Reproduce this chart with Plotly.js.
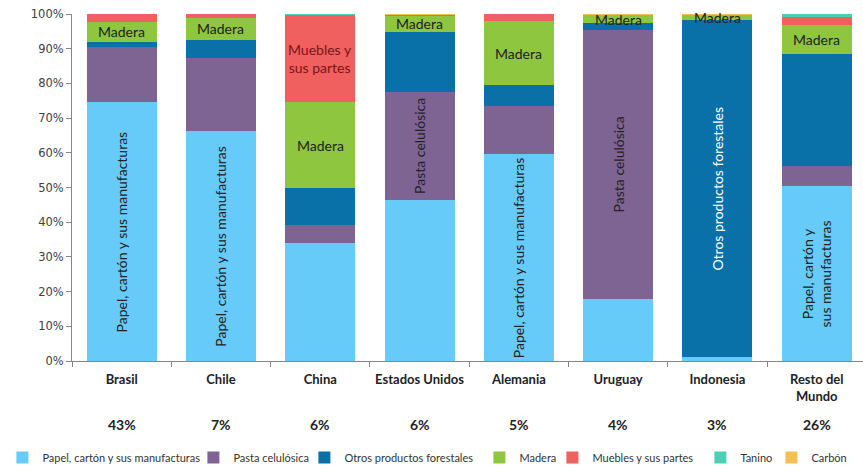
<!DOCTYPE html>
<html>
<head>
<meta charset="utf-8">
<script src="https://cdn.plot.ly/plotly-3.0.1.min.js"></script>
<style>html,body{margin:0;padding:0;background:#fff;}#chart{width:863px;height:472px;}</style>
</head>
<body>
<div id="chart"></div>
<script>
// ---- data (percent of each country's exports) ----
const categories = ['Brasil', 'Chile', 'China', 'Estados Unidos', 'Alemania', 'Uruguay', 'Indonesia', 'Resto del<br>Mundo'];
const shares = ['43%', '7%', '6%', '6%', '5%', '4%', '3%', '26%'];
const seriesNames = ['Papel, cartón y sus manufacturas', 'Pasta celulósica', 'Otros productos forestales', 'Madera', 'Muebles y sus partes', 'Tanino', 'Carbón'];
const papel   = [74.5, 66.4, 34.1, 46.3, 59.7, 17.9, 1.2, 50.3];
const pasta   = [16.0, 20.8, 5.1, 31.1, 13.9, 77.6, 0.0, 6.0];
const otros   = [1.5, 5.4, 10.6, 17.5, 5.8, 1.8, 97.2, 32.2];
const madera  = [5.8, 6.3, 24.7, 4.5, 18.5, 2.4, 1.2, 8.3];
const muebles = [2.2, 1.1, 25.2, 0.3, 2.1, 0.0, 0.2, 2.4];
const tanino  = [0.0, 0.0, 0.3, 0.0, 0.0, 0.0, 0.0, 0.8];
const carbon  = [0.0, 0.0, 0.0, 0.3, 0.0, 0.3, 0.2, 0.0];
const seriesValues = [papel, pasta, otros, madera, muebles, tanino, carbon];

// segment labels: [category index, series index, text]
const segLabels = [
  [0, 0, 'Papel, cartón y sus manufacturas'], [0, 3, 'Madera'],
  [1, 0, 'Papel, cartón y sus manufacturas'], [1, 3, 'Madera'],
  [2, 4, 'Muebles y<br>sus partes'], [2, 3, 'Madera'],
  [3, 1, 'Pasta celulósica'], [3, 3, 'Madera'],
  [4, 0, 'Papel, cartón y sus manufacturas'], [4, 3, 'Madera'],
  [5, 1, 'Pasta celulósica'], [5, 3, 'Madera'],
  [6, 2, 'Otros productos forestales'], [6, 3, 'Madera'],
  [7, 0, 'Papel, cartón y<br>sus manufacturas'], [7, 3, 'Madera']
];

// ---- styles ----
const colors = ['#66CBF8', '#7E6493', '#0A70A8', '#8EC640', '#F0605E', '#48D1B4', '#F5C053'];
const legendWidths = [146, 66, 130, 28, 103, 26, 34];
const labelFont = 'Lato, "Open Sans", sans-serif';

const traces = seriesNames.map((name, i) => ({
  type: 'bar',
  name: name,
  x: categories,
  y: seriesValues[i],
  legendwidth: legendWidths[i],
  marker: {color: colors[i], line: {width: 0}},
  hoverinfo: 'x+y+name'
}));

const annotations = [];
segLabels.forEach(([c, s, txt]) => {
  let base = 0;
  for (let k = 0; k < s; k++) base += seriesValues[k][c];
  const mid = base + seriesValues[s][c] / 2;
  const rotated = txt !== 'Madera' && !txt.startsWith('Muebles');
  let col = '#222222';
  if (s === 2) col = '#FFFFFF';
  if (s === 4) col = '#7A1515';
  annotations.push({
    x: c, y: mid, xref: 'x', yref: 'y', text: txt, showarrow: false,
    textangle: rotated ? -90 : 0,
    font: {family: labelFont, size: 14, color: col}
  });
});
shares.forEach((s, i) => {
  annotations.push({
    x: i, y: -0.184, xref: 'x', yref: 'paper', yanchor: 'middle', text: s, showarrow: false,
    font: {family: labelFont, size: 14, color: '#222222', weight: 'bold'}
  });
});

const layout = {
  width: 863, height: 472,
  margin: {l: 72, r: 0, t: 14, b: 111, pad: 0},
  paper_bgcolor: '#FFFFFF', plot_bgcolor: '#FFFFFF',
  barmode: 'stack',
  bargap: 0.295,
  showlegend: true,
  legend: {
    orientation: 'h', xref: 'paper', yref: 'paper',
    x: -0.088, xanchor: 'left', y: -0.279, yanchor: 'middle',
    font: {family: labelFont, size: 11, color: '#333333'},
    traceorder: 'normal', itemwidth: 30
  },
  xaxis: {
    type: 'category', range: [-0.5, 7.466],
    showline: true, linecolor: '#868686', linewidth: 1,
    ticks: 'outside', tickson: 'boundaries', ticklen: 5, tickcolor: '#868686',
    tickfont: {family: labelFont, size: 13, color: '#222222', weight: 'bold'},
    ticklabelstandoff: 6,
    showgrid: false, zeroline: false, fixedrange: true
  },
  yaxis: {
    range: [0, 100], dtick: 10, ticksuffix: '%',
    showline: true, linecolor: '#868686', linewidth: 1,
    ticks: 'outside', ticklen: 5, tickcolor: '#868686',
    tickfont: {family: '"DejaVu Sans", Verdana, sans-serif', size: 11.5, color: '#404040'},
    showgrid: false, zeroline: false, fixedrange: true
  },
  annotations: annotations
};

Plotly.newPlot('chart', traces, layout, {displayModeBar: false, staticPlot: true});
</script>
</body>
</html>
